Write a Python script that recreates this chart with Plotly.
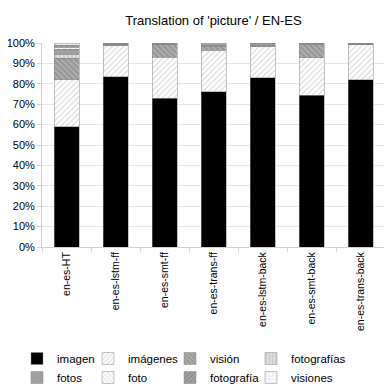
import plotly.graph_objects as go

systems = ["en-es-HT", "en-es-lstm-ff", "en-es-smt-ff", "en-es-trans-ff",
           "en-es-lstm-back", "en-es-smt-back", "en-es-trans-back"]

imagen = [0.59, 0.835, 0.73, 0.76, 0.83, 0.745, 0.82]
imagenes = [0.23, 0.155, 0.20, 0.205, 0.152, 0.183, 0.175]
vision = [0.105, 0.0, 0.065, 0.02, 0.008, 0.065, 0.0]
fotografias = [0.021, 0.004, 0.0, 0.005, 0.0, 0.004, 0.0]
fotos = [0.024, 0.0, 0.0, 0.0, 0.0, 0.0, 0.0]
foto = [0.01, 0.003, 0.003, 0.004, 0.004, 0.0, 0.002]
fotografia = [0.01, 0.003, 0.002, 0.003, 0.004, 0.003, 0.003]
visiones = [0.01, 0.0, 0.0, 0.003, 0.002, 0.0, 0.0]

# name, values, background, pattern, pattern colour, solidity, legend column
series = [
    ("imagen", imagen, "black", "", "black", 1, "legend"),
    ("imágenes", imagenes, "white", "/", "#bbbbbb", 0.35, "legend2"),
    ("visión", vision, "#b0b0b0", "\\", "#777777", 0.5, "legend3"),
    ("fotografías", fotografias, "#e0e0e0", "|", "#b5b5b5", 0.5, "legend4"),
    ("fotos", fotos, "#a0a0a0", "", "#a0a0a0", 1, "legend"),
    ("foto", foto, "white", "\\", "#c0c0c0", 0.35, "legend2"),
    ("fotografía", fotografia, "#a8a8a8", "/", "#6a6a6a", 0.5, "legend3"),
    ("visiones", visiones, "white", "+", "#b8bce0", 0.3, "legend4"),
]

fig = go.Figure()
for name, vals, bg, shape, fg, sol, leg in series:
    pat = dict(shape=shape, bgcolor=bg, fgcolor=fg, size=4, solidity=sol) if shape else None
    fig.add_trace(go.Bar(
        x=systems, y=vals, name=name, legend=leg,
        marker=dict(color=bg, line=dict(color="#888888", width=0.5), pattern=pat),
    ))

# page has an 8px body margin, so the figure is 384 and margins are shifted
W = 384
leg_style = dict(orientation="v", xref="container", yref="container", y=0.125,
                 yanchor="top", xanchor="left", font=dict(size=11.5),
                 traceorder="normal", itemwidth=30, tracegroupgap=0,
                 bgcolor="rgba(0,0,0,0)")
legend_x = [9, 80, 162, 243]

fig.update_layout(
    barmode="stack",
    bargap=0.49,
    width=W, height=W,
    margin=dict(l=34, r=7, t=35, b=145, autoexpand=False),
    paper_bgcolor="white", plot_bgcolor="white",
    font=dict(family="Liberation Sans, Arial, sans-serif", size=11, color="black"),
    title=dict(text="Translation of 'picture' / EN-ES", x=0.5, xref="paper",
               xanchor="center", y=1 - 12 / W, yanchor="middle", font=dict(size=13)),
    legend=dict(x=legend_x[0] / W, **leg_style),
    legend2=dict(x=legend_x[1] / W, **leg_style),
    legend3=dict(x=legend_x[2] / W, **leg_style),
    legend4=dict(x=legend_x[3] / W, **leg_style),
    xaxis=dict(tickangle=-90, showline=True, linecolor="#d0d0d0",
               ticks="outside", tickson="boundaries", ticklen=4, tickcolor="#d8d8d8",
               tickfont=dict(size=10.5)),
    yaxis=dict(range=[0, 1], tickformat=".0%", dtick=0.1, showgrid=True,
               gridcolor="#e6e6e6", showline=True, linecolor="#d0d0d0",
               ticks="outside", ticklen=4, tickcolor="#d0d0d0", tickfont=dict(size=11)),
)

fig.write_html("out.html")
